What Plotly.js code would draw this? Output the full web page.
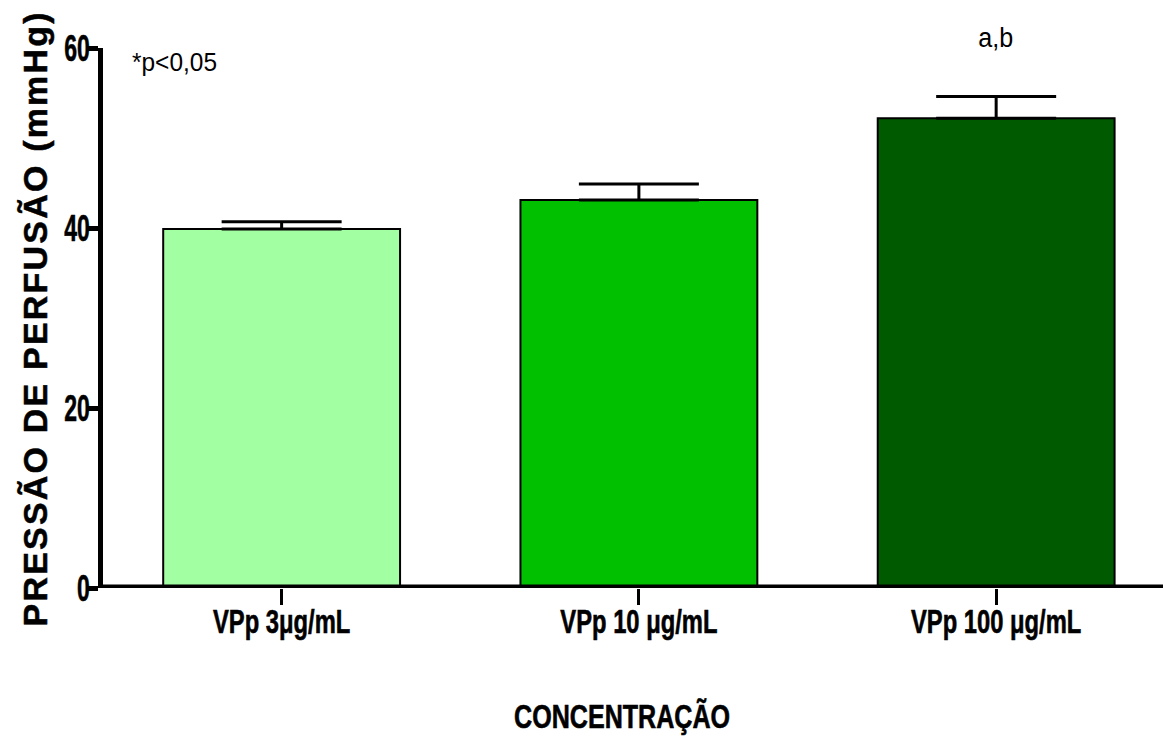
<!DOCTYPE html>
<html>
<head>
<meta charset="utf-8">
<script src="https://cdn.plot.ly/plotly-3.0.1.min.js"></script>
<style>
html,body{margin:0;padding:0;background:#fff;}
#chart{width:1163px;height:738px;}
</style>
</head>
<body>
<div id="chart"></div>
<script>
const categories = ["VPp 3\u03bcg/mL", "VPp 10 \u03bcg/mL", "VPp 100 \u03bcg/mL"];
const means = [39.9, 43.1, 52.2];
const sem = [0.8, 1.8, 2.4];
const barColors = ["#a2ffa2", "#00c000", "#005a00"];
const yTickVals = [0, 20, 40, 60];
const yTitle = "PRESS\u00c3O DE PERFUS\u00c3O (mmHg)";
const xTitle = "CONCENTRA\u00c7\u00c3O";
const sigNote = "*p<0,05";
const groupLabel = "a,b";

const FONT = "'Liberation Sans', Arial, sans-serif";
const L = 103, T = 48, W = 1060, H = 540;
const px2x = p => (p - L) / W;
const px2y = p => (T + H - p) / H;

const trace = {
  type: "bar",
  x: [0, 1, 2],
  y: means,
  width: 0.663,
  marker: { color: barColors, line: { color: "#000", width: 2 } },
  error_y: { type: "data", array: sem, symmetric: false, arrayminus: [0, 0, 0], visible: true, color: "#000", thickness: 3, width: 60 },
  hoverinfo: "none"
};

const layout = {
  width: 1163, height: 738,
  margin: { l: L, r: 1163 - L - W, t: T, b: 738 - T - H },
  paper_bgcolor: "#fff", plot_bgcolor: "#fff",
  showlegend: false,
  xaxis: {
    range: [-0.5, 2.467],
    tickmode: "array", tickvals: [0, 1, 2], ticktext: categories,
    ticks: "outside", ticklen: 16, tickwidth: 3, tickcolor: "#000",
    ticklabelstandoff: -12,
    showline: false, showgrid: false, zeroline: false,
    tickfont: { family: FONT, size: 33, color: "#000", weight: "bold" }
  },
  yaxis: {
    range: [0, 60],
    tickmode: "array", tickvals: yTickVals,
    ticks: "outside", ticklen: 10, tickwidth: 5, tickcolor: "#000",
    ticklabelstandoff: -9,
    showline: true, linecolor: "#000", linewidth: 5,
    showgrid: false, zeroline: false,
    tickfont: { family: FONT, size: 36, color: "#000", weight: "bold" }
  },
  shapes: [
    { type: "line", xref: "paper", yref: "y", x0: 0, x1: 1, y0: 0, y1: 0, layer: "above", line: { color: "#000", width: 7 } }
  ],
  annotations: [
    { text: yTitle, xref: "paper", yref: "paper", x: px2x(35), y: px2y(320), xanchor: "center", yanchor: "middle",
      textangle: -90, showarrow: false, font: { family: FONT, size: 34, color: "#000", weight: "bold" } },
    { text: xTitle, xref: "paper", yref: "paper", x: px2x(621.5), y: px2y(716.5), xanchor: "center", yanchor: "middle",
      showarrow: false, font: { family: FONT, size: 33, color: "#000", weight: "bold" } },
    { text: sigNote, xref: "paper", yref: "paper", x: px2x(130), y: px2y(62), xanchor: "left", yanchor: "middle", align: "left",
      showarrow: false, font: { family: FONT, size: 26, color: "#000" } },
    { text: groupLabel, xref: "x", yref: "paper", x: 2, y: px2y(38), xanchor: "center", yanchor: "middle",
      showarrow: false, font: { family: FONT, size: 27, color: "#000" } }
  ]
};

function squeeze(el, f, heavy) {
  const w = el.getComputedTextLength();
  if (w > 0) {
    el.setAttribute("textLength", (w * f).toFixed(1));
    el.setAttribute("lengthAdjust", "spacingAndGlyphs");
  }
  if (heavy) { el.style.stroke = "#000"; el.style.strokeWidth = "0.6px"; }
}

Plotly.newPlot("chart", [trace], layout, { displayModeBar: false, staticPlot: true }).then(gd => {
  gd.querySelectorAll(".xtick text").forEach(t => squeeze(t, 0.72, true));
  gd.querySelectorAll(".ytick text").forEach(t => squeeze(t, 0.64, true));
  const anns = gd.querySelectorAll("text.annotation-text");
  if (anns[0]) {
    anns[0].setAttribute("textLength", "614");
    anns[0].setAttribute("lengthAdjust", "spacing");
    anns[0].style.stroke = "#000"; anns[0].style.strokeWidth = "0.5px";
  }
  if (anns[1]) squeeze(anns[1], 0.76, true);
  if (anns[2]) squeeze(anns[2], 0.94, false);
  if (anns[3]) squeeze(anns[3], 0.93, false);
});
</script>
</body>
</html>
